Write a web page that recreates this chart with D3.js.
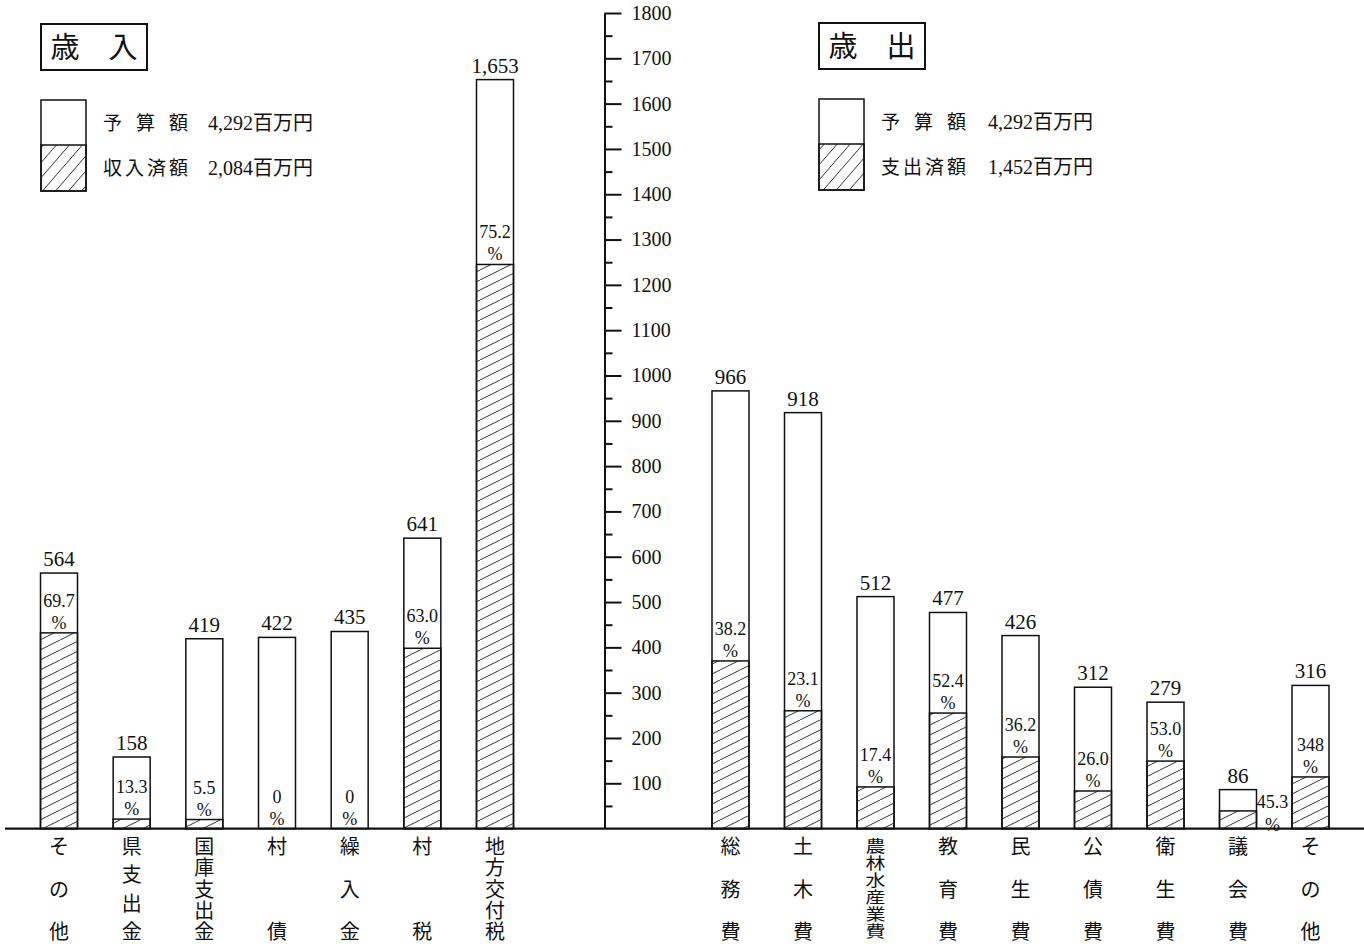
<!DOCTYPE html>
<html>
<head>
<meta charset="utf-8">
<script src="https://cdn.jsdelivr.net/npm/d3@7"></script>
<style>
  body { margin: 0; background: #fff; }
  text { font-family: "Liberation Serif", "Noto Sans CJK JP", serif; fill: #111; }
</style>
</head>
<body>
<svg width="1364" height="944"></svg>
<script>
// 歳入 (revenue)
var revCategories = ['その他', '県支出金', '国庫支出金', '村債', '繰入金', '村税', '地方交付税'];
var revBudget = [564, 158, 419, 422, 435, 641, 1653];
var revDone = [432, 21, 20, 0, 0, 398, 1245];
var revPct = ['69.7', '13.3', '5.5', '0', '0', '63.0', '75.2'];

// 歳出 (expenditure)
var expCategories = ['総務費', '土木費', '農林水産業費', '教育費', '民生費', '公債費', '衛生費', '議会費', 'その他'];
var expBudget = [966, 918, 512, 477, 426, 312, 279, 86, 316];
var expDone = [370, 260, 92, 255, 158, 83, 149, 39, 114];
var expPct = ['38.2', '23.1', '17.4', '52.4', '36.2', '26.0', '53.0', '45.3', '348'];

var majorTicks = d3.range(100, 1801, 100);
var minorTicks = d3.range(50, 1800, 100);

var svg = d3.select('svg');
var baseY = 828.6,
  barW = 37;

var y = d3.scaleLinear().domain([0, 1800]).range([baseY, 13]);
var xRev = d3.scalePoint().domain(revCategories).range([59, 495]);
var xExp = d3.scalePoint().domain(expCategories).range([730.5, 1310.5]);

var defs = svg.append('defs');
defs.append('pattern')
  .attr('id', 'hatch')
  .attr('patternUnits', 'userSpaceOnUse')
  .attr('width', 20)
  .attr('height', 10)
  .append('line')
  .attr('x1', 0).attr('y1', 10).attr('x2', 20).attr('y2', 0)
  .attr('stroke', '#333').attr('stroke-width', 1);
defs.append('pattern')
  .attr('id', 'hatch2')
  .attr('patternUnits', 'userSpaceOnUse')
  .attr('width', 13)
  .attr('height', 15)
  .append('line')
  .attr('x1', 0).attr('y1', 15).attr('x2', 13).attr('y2', 0)
  .attr('stroke', '#333').attr('stroke-width', 1);

// axis
var axisG = svg.append('g').attr('transform', 'translate(604.5,0)');
axisG.call(d3.axisRight(y).tickValues(majorTicks).tickSize(17).tickSizeOuter(0).tickPadding(10).tickFormat(d3.format('d')))
  .call(function(g) {
    g.select('.domain').attr('stroke', '#111').attr('stroke-width', 2);
    g.selectAll('.tick line').attr('stroke', '#111').attr('stroke-width', 2);
    g.selectAll('.tick text').attr('font-size', 20).attr('font-family', '"Liberation Serif", serif').attr('fill', '#111');
  });
axisG.append('g')
  .call(d3.axisRight(y).tickValues(minorTicks).tickSize(8).tickSizeOuter(0).tickFormat(''))
  .call(function(g) {
    g.select('.domain').remove();
    g.selectAll('.tick line').attr('stroke', '#111').attr('stroke-width', 2);
  });

function drawGroup(cats, budget, done, pct, x) {
  var rows = cats.map(function(c, i) {
    return { cat: c, budget: budget[i], done: done[i], pct: pct[i] };
  });
  var g = svg.append('g');
  var bar = g.selectAll('g.bar').data(rows).enter().append('g').attr('class', 'bar');

  bar.append('rect')
    .attr('x', function(d) { return x(d.cat) - barW / 2; })
    .attr('y', function(d) { return y(d.budget); })
    .attr('width', barW)
    .attr('height', function(d) { return baseY - y(d.budget); })
    .attr('fill', '#fff')
    .attr('stroke', '#111')
    .attr('stroke-width', 1.5);

  bar.filter(function(d) { return d.done > 0; })
    .append('rect')
    .attr('x', function(d) { return x(d.cat) - barW / 2; })
    .attr('y', function(d) { return y(d.done); })
    .attr('width', barW)
    .attr('height', function(d) { return baseY - y(d.done); })
    .attr('fill', 'url(#hatch)')
    .attr('stroke', '#111')
    .attr('stroke-width', 1.5);

  bar.append('text')
    .attr('x', function(d) { return x(d.cat); })
    .attr('y', function(d) { return y(d.budget) - 7; })
    .attr('text-anchor', 'middle')
    .attr('font-size', 21)
    .text(function(d) { return d3.format(',')(d.budget); });

  function outside(d) { return y(d.done) - y(d.budget) < 40; }

  bar.append('text')
    .attr('x', function(d) { return outside(d) ? x(d.cat) + barW / 2 + 16 : x(d.cat); })
    .attr('y', function(d) { return outside(d) ? y(d.done) - 3 : y(d.done) - 26; })
    .attr('text-anchor', 'middle')
    .attr('font-size', 18)
    .text(function(d) { return d.pct; });
  bar.append('text')
    .attr('x', function(d) { return outside(d) ? x(d.cat) + barW / 2 + 16 : x(d.cat); })
    .attr('y', function(d) { return outside(d) ? y(d.done) + 20 : y(d.done) - 4; })
    .attr('text-anchor', 'middle')
    .attr('font-size', 18)
    .text('%');

  // vertical category labels
  bar.each(function(d) {
    var chars = d.cat.split('');
    var n = chars.length;
    var step = (932 - 847) / (n - 1);
    var sy = n >= 5 ? step / 21 : 1;
    var sel = d3.select(this);
    chars.forEach(function(ch, j) {
      var cy = 847 + j * step;
      sel.append('text')
        .attr('transform', 'translate(' + x(d.cat) + ',' + cy + ') scale(1,' + sy + ')')
        .attr('text-anchor', 'middle')
        .attr('dominant-baseline', 'central')
        .attr('font-family', '"Noto Sans CJK JP", sans-serif')
        .attr('font-size', 20)
        .text(ch);
    });
  });
}

drawGroup(revCategories, revBudget, revDone, revPct, xRev);
drawGroup(expCategories, expBudget, expDone, expPct, xExp);

// baseline
svg.append('line')
  .attr('x1', 5).attr('x2', 1364)
  .attr('y1', baseY).attr('y2', baseY)
  .attr('stroke', '#111').attr('stroke-width', 2.2);

// titles and legends
function legend(opt) {
  svg.append('rect')
    .attr('x', opt.tx).attr('y', opt.ty).attr('width', 106).attr('height', 46)
    .attr('fill', '#fff').attr('stroke', '#111').attr('stroke-width', 2);
  svg.append('text')
    .attr('x', opt.tx + 53).attr('y', opt.ty + 34)
    .attr('text-anchor', 'middle')
    .attr('font-family', '"Noto Sans CJK JP", sans-serif')
    .attr('font-size', 29)
    .text(opt.title);

  svg.append('rect')
    .attr('x', opt.lx).attr('y', opt.ly).attr('width', 45).attr('height', 91)
    .attr('fill', '#fff').attr('stroke', '#111').attr('stroke-width', 1.5);
  svg.append('rect')
    .attr('x', opt.lx).attr('y', opt.ly + 45).attr('width', 45).attr('height', 46)
    .attr('fill', 'url(#hatch2)').attr('stroke', '#111').attr('stroke-width', 1.5);

  opt.rows.forEach(function(r, i) {
    var ty = opt.ly + 30 + i * 45;
    svg.append('text')
      .attr('x', opt.lx + 62).attr('y', ty)
      .attr('font-family', '"Noto Sans CJK JP", sans-serif')
      .attr('font-size', 19)
      .attr('textLength', 85)
      .attr('lengthAdjust', 'spacing')
      .text(r[0]);
    svg.append('text')
      .attr('x', opt.lx + opt.vx).attr('y', ty)
      .attr('font-size', 20)
      .text(r[1]);
  });
}

legend({
  title: '歳　入', tx: 41, ty: 24, lx: 41, ly: 100, vx: 167,
  rows: [['予 算 額', '4,292百万円'], ['収入済額', '2,084百万円']]
});
legend({
  title: '歳　出', tx: 819, ty: 23, lx: 819, ly: 99, vx: 169,
  rows: [['予 算 額', '4,292百万円'], ['支出済額', '1,452百万円']]
});
</script>
</body>
</html>
